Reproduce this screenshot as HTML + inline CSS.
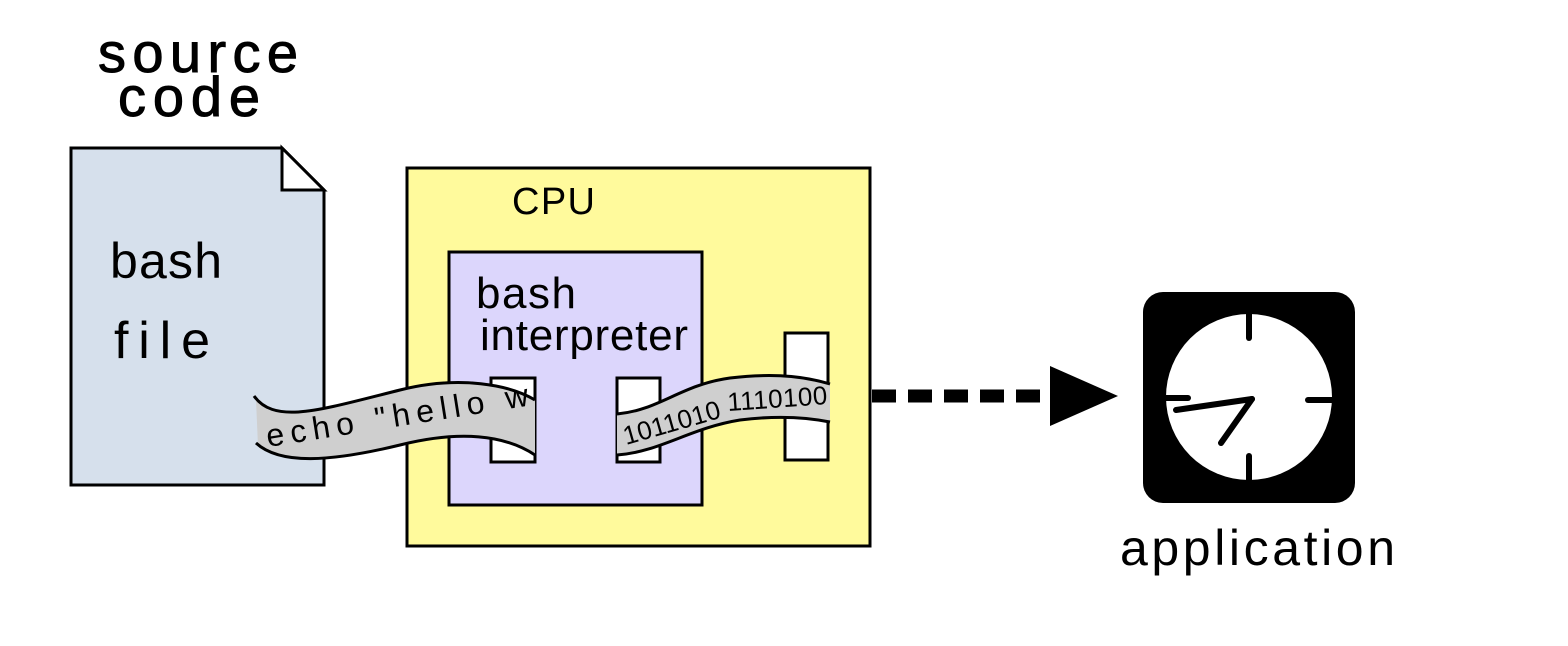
<!DOCTYPE html>
<html><head><meta charset="utf-8"><style>html,body{margin:0;padding:0;background:#fff}svg{display:block}</style></head>
<body>
<svg width="1568" height="646" viewBox="0 0 1568 646" xmlns="http://www.w3.org/2000/svg" font-family="Liberation Sans, DejaVu Sans, sans-serif">
<rect width="1568" height="646" fill="#fff"/>
<text x="98" y="72" font-size="56" fill="#000" stroke="#000" stroke-width="1" textLength="200">source</text>
<text x="118" y="116" font-size="56" fill="#000" stroke="#000" stroke-width="1" textLength="142">code</text>
<!-- document -->
<path d="M71,148 L282,148 L324,190 L324,485 L71,485 Z" fill="#d6e0ec" stroke="#000" stroke-width="3"/>
<path d="M282,148 L282,190 L324,190 Z" fill="#fff" stroke="#000" stroke-width="3"/>
<text x="110" y="278" font-size="50" fill="#000" textLength="112">bash</text>
<text x="114" y="358" font-size="52" fill="#000" textLength="96">file</text>
<!-- CPU -->
<rect x="407" y="168" width="463" height="378" fill="#fffa9c" stroke="#000" stroke-width="3"/>
<text x="512" y="214" font-size="38" fill="#000" textLength="83">CPU</text>
<rect x="449" y="252" width="253" height="253" fill="#dcd6fc" stroke="#000" stroke-width="3"/>
<text x="476" y="308" font-size="44" fill="#000" textLength="100">bash</text>
<text x="480" y="350" font-size="44" fill="#000" textLength="208">interpreter</text>
<rect x="491" y="378" width="44" height="84" fill="#fff" stroke="#000" stroke-width="3"/>
<rect x="617" y="378" width="43" height="84" fill="#fff" stroke="#000" stroke-width="3"/>
<rect x="785" y="333" width="43" height="127" fill="#fff" stroke="#000" stroke-width="3"/>
<!-- tape 1 -->
<path d="M256,400 C275,425 320,410 400,390 C460,375 510,385 535,400 L535,455 C505,435 460,430 400,445 C330,462 280,465 258,446 Z" fill="#cfcfcf"/>
<path d="M254,396 C275,425 320,410 400,390 C460,375 510,385 535,400" fill="none" stroke="#000" stroke-width="3"/>
<path d="M256,443 C280,465 330,462 400,445 C460,430 505,435 535,455" fill="none" stroke="#000" stroke-width="3"/>
<text x="0" y="0" font-size="32" fill="#000" transform="translate(268,447) rotate(-9)" textLength="265">echo "hello w</text>
<!-- tape 2 -->
<path d="M617,414 C660,410 680,385 730,378 C780,372 810,378 830,384 L830,422 C810,418 780,415 740,420 C690,428 660,452 617,455 Z" fill="#cfcfcf"/>
<path d="M617,414 C660,410 680,385 730,378 C780,372 810,378 830,384" fill="none" stroke="#000" stroke-width="3"/>
<path d="M617,455 C660,452 690,428 740,420 C780,415 810,418 830,422" fill="none" stroke="#000" stroke-width="3"/>
<text x="0" y="0" font-size="26" fill="#000" transform="translate(626,445) rotate(-16)" textLength="100">1011010</text>
<text x="0" y="0" font-size="26" fill="#000" transform="translate(728,411) rotate(-4)" textLength="100">1110100</text>
<!-- arrow -->
<line x1="872" y1="396" x2="1050" y2="396" stroke="#000" stroke-width="13" stroke-dasharray="24,12"/>
<path d="M1050,366 L1118,396 L1050,426 Z" fill="#000"/>
<!-- clock -->
<rect x="1143" y="292" width="212" height="211" rx="20" fill="#000"/>
<circle cx="1249" cy="397" r="83" fill="#fff"/>
<g stroke="#000" stroke-width="6" stroke-linecap="round">
<line x1="1249" y1="314" x2="1249" y2="338"/>
<line x1="1249" y1="456" x2="1249" y2="480"/>
<line x1="1166" y1="398" x2="1188" y2="398"/>
<line x1="1308" y1="400" x2="1332" y2="400"/>
<line x1="1252" y1="399" x2="1176" y2="410"/>
<line x1="1252" y1="399" x2="1221" y2="443"/>
</g>
<text x="1120" y="565" font-size="50" fill="#000" textLength="275">application</text>
</svg>
</body></html>
